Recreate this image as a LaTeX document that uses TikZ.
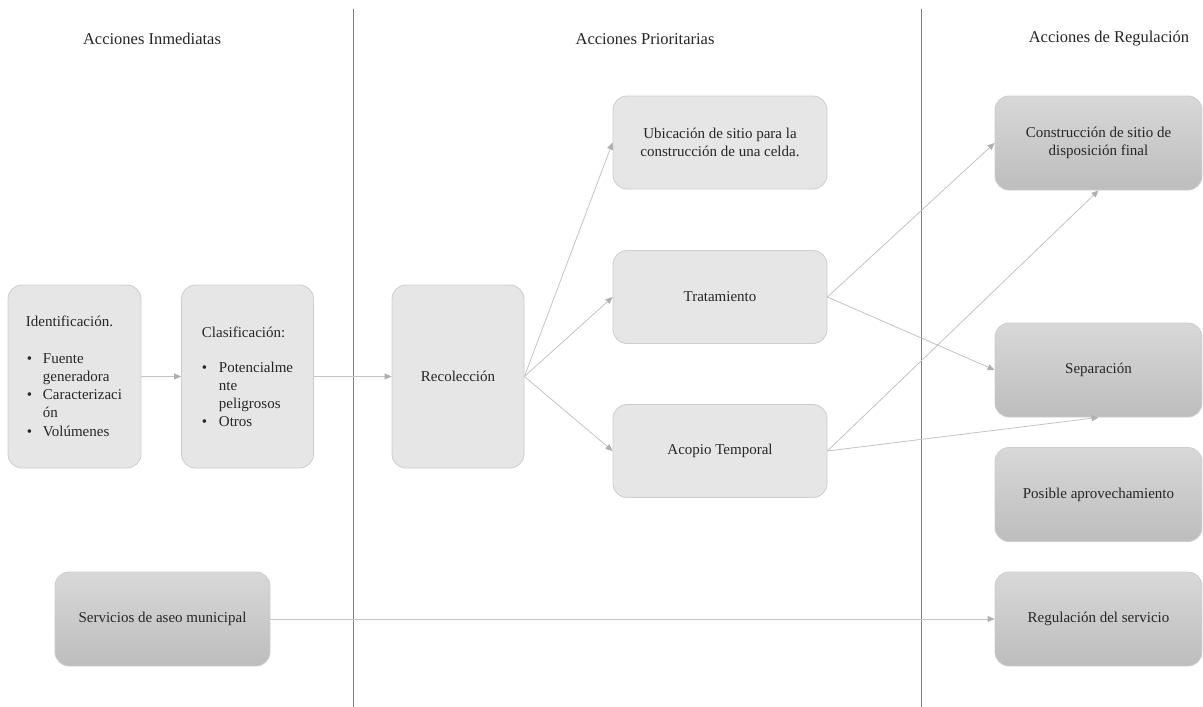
\documentclass[tikz,border=0pt]{standalone}
\usepackage{fontspec}
\setmainfont{Liberation Serif}
\usetikzlibrary{arrows.meta}
\definecolor{boxfill}{HTML}{E6E6E6}
\definecolor{boxline}{HTML}{CDCDCD}
\definecolor{gtop}{HTML}{D8D8D8}
\definecolor{gbot}{HTML}{BDBDBD}
\definecolor{conn}{HTML}{C4C4C4}
\definecolor{tipc}{HTML}{B0B0B0}
\definecolor{sep}{HTML}{808080}
\definecolor{txt}{HTML}{262626}
\tikzset{
  base/.style={rectangle, rounded corners=14pt, draw=boxline, line width=0.8pt, inner sep=0pt,
    font=\fontsize{15}{18}\selectfont, text=txt, align=center},
  lbox/.style={base, fill=boxfill},
  dbox/.style={base, top color=gtop, bottom color=gbot},
  head/.style={font=\fontsize{16.5}{19}\selectfont, text=black!85},
  conn/.style={draw=conn, line width=0.8pt, -{Triangle[width=6pt,length=7pt,fill=tipc,color=tipc]}},
  sepline/.style={draw=sep, line width=0.9pt}
}
\begin{document}
\begin{tikzpicture}[x=1pt,y=-1pt]
\useasboundingbox[fill=white] (0,0) rectangle (1203,707);
% separators
\draw[sepline] (353,9) -- (353,707);
\draw[sepline] (921,9) -- (921,707);
% headers
\node[head] (h1) at (152,39) {Acciones Inmediatas};
\node[head] (h2) at (645,39) {Acciones Prioritarias};
\node[head] (h3) at (1109,39) {Acciones de Regulación};
% left column
\node[lbox, minimum width=133pt, minimum height=183pt, align=left] (ident) at (74.5,376.5)
 {\hspace*{-1pt}Identificación.\\[19pt]
  \makebox[16pt][l]{\textbullet}Fuente\\
  \hspace*{16pt}generadora\\
  \makebox[16pt][l]{\textbullet}Caracterizaci\\
  \hspace*{16pt}ón\\[1pt]
  \makebox[16pt][l]{\textbullet}Volúmenes};
\node[lbox, minimum width=132pt, minimum height=183pt, align=left] (clasif) at (247.5,376.5)
 {Clasificación:\\[17pt]
  \makebox[17pt][l]{\textbullet}Potencialme\\
  \hspace*{17pt}nte\\
  \hspace*{17pt}peligrosos\\
  \makebox[17pt][l]{\textbullet}Otros};
\node[dbox, minimum width=215pt, minimum height=94pt] (serv) at (162.5,619) {Servicios de aseo municipal};
% middle column
\node[lbox, minimum width=132pt, minimum height=183pt] (recol) at (458,376.5) {Recolección};
\node[lbox, minimum width=214pt, minimum height=93pt] (ubic) at (720,142.5) {Ubicación de sitio para la\\construcción de una celda.};
\node[lbox, minimum width=214pt, minimum height=93pt] (trat) at (720,297) {Tratamiento};
\node[lbox, minimum width=214pt, minimum height=93pt] (acop) at (720,451) {Acopio Temporal};
% right column
\node[dbox, minimum width=207pt, minimum height=94pt] (constr) at (1098.5,143) {Construcción de sitio de\\disposición final};
\node[dbox, minimum width=207pt, minimum height=94pt] (separ) at (1098.5,370) {Separación};
\node[dbox, minimum width=207pt, minimum height=94pt] (posib) at (1098.5,494.5) {Posible aprovechamiento};
\node[dbox, minimum width=207pt, minimum height=94pt] (regul) at (1098.5,619) {Regulación del servicio};
% connectors
\draw[conn] (ident.east) -- (clasif.west);
\draw[conn] (clasif.east) -- (recol.west);
\draw[conn] (recol.east) -- (ubic.west);
\draw[conn] (recol.east) -- (trat.west);
\draw[conn] (recol.east) -- (acop.west);
\draw[conn] (trat.east) -- (constr.west);
\draw[conn] (trat.east) -- (separ.west);
\draw[conn] (acop.east) -- (constr.south);
\draw[conn] (acop.east) -- (separ.south);
\draw[conn] (serv.east) -- (regul.west);
\end{tikzpicture}
\end{document}
